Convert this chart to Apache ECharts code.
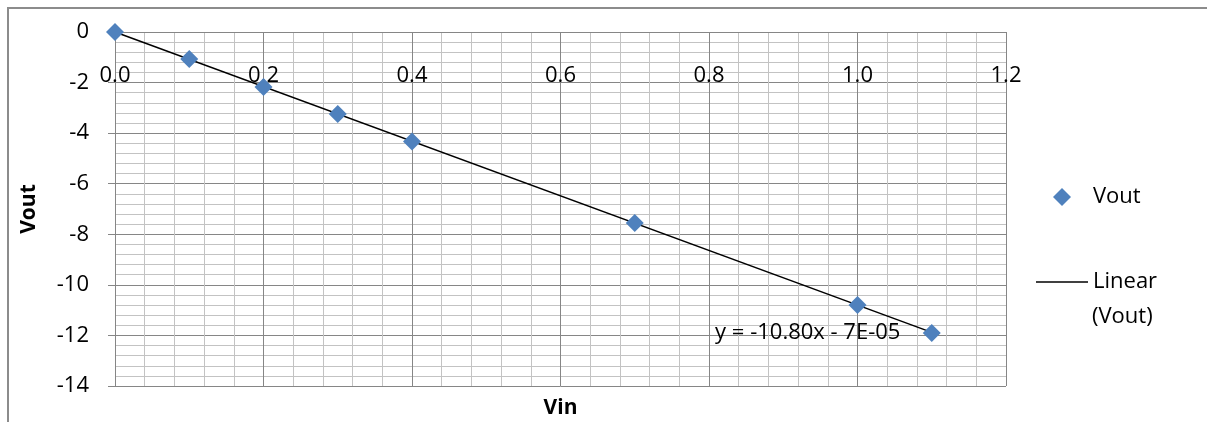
<!DOCTYPE html>
<html>
<head>
<meta charset="utf-8">
<script src="https://cdn.jsdelivr.net/npm/echarts@6/dist/echarts.min.js"></script>
<style>
html,body{margin:0;padding:0;background:#fff;}
#chart{width:1207px;height:422px;}
</style>
</head>
<body>
<div id="chart"></div>
<script>
var vin = [0, 0.1, 0.2, 0.3, 0.4, 0.7, 1.0, 1.1];
var vout = [0, -1.07, -2.18, -3.24, -4.33, -7.55, -10.8, -11.9];
var trendX = [0, 1.1];
var trendY = [-0.00007, -11.88];
var equationText = 'y = -10.80x - 7E-05';
var equationAt = [0.933, -11.9];
var seriesName = 'Vout';
var trendName = 'Linear (Vout)';
var xTitle = 'Vin';
var yTitle = 'Vout';

var FONT = 'Open Sans';
var FS = 22;
var chart = echarts.init(document.getElementById('chart'));
var scatterData = vin.map(function (x, i) { return [x, vout[i]]; });
var trendData = trendX.map(function (x, i) { return [x, trendY[i]]; });

chart.setOption({
  animation: false,
  backgroundColor: '#fff',
  textStyle: { fontFamily: FONT },
  grid: { left: 115, right: 201, top: 32, bottom: 36, containLabel: false, outerBoundsMode: 'none' },
  xAxis: [
    {
      type: 'value', min: 0, max: 1.2, interval: 0.2, position: 'top',
      axisLine: { show: true, onZero: false, lineStyle: { color: '#868686', width: 1 } },
      axisTick: { show: false },
      axisLabel: { inside: true, margin: 33, fontSize: FS, color: '#000', fontFamily: FONT,
        formatter: function (v) { return v.toFixed(1); } },
      splitLine: { show: true, lineStyle: { color: '#868686', width: 1 } },
      minorTick: { show: false, splitNumber: 5 },
      minorSplitLine: { show: true, lineStyle: { color: '#c3c3c3', width: 1 } }
    },
    {
      type: 'value', min: 0, max: 1.2, position: 'bottom',
      name: xTitle, nameLocation: 'middle', nameGap: 12,
      nameTextStyle: { fontFamily: FONT, fontWeight: 'bold', fontSize: 21, color: '#000' },
      axisLine: { show: false }, axisTick: { show: false }, axisLabel: { show: false },
      splitLine: { show: false }
    }
  ],
  yAxis: {
    type: 'value', min: -14, max: 0, interval: 2,
    name: yTitle, nameLocation: 'middle', nameGap: 75, nameRotate: 90,
    nameTextStyle: { fontFamily: FONT, fontWeight: 'bold', fontSize: 21, color: '#000' },
    axisLine: { show: true, onZero: false, lineStyle: { color: '#868686', width: 1 } },
    axisTick: { show: true, inside: false, length: 7, lineStyle: { color: '#868686' } },
    axisLabel: { margin: 26, fontSize: FS, color: '#000', fontFamily: FONT },
    splitLine: { show: true, lineStyle: { color: '#868686', width: 1 } },
    minorTick: { show: false, splitNumber: 5 },
    minorSplitLine: { show: true, lineStyle: { color: '#c3c3c3', width: 1 } }
  },
  legend: [
    {
      data: [{ name: seriesName, icon: 'diamond' }], orient: 'vertical', left: 1048, top: 181,
      itemWidth: 18, itemHeight: 18,
      textStyle: { fontSize: FS, color: '#000', fontFamily: FONT, padding: [0, 0, 0, 17] }
    },
    {
      data: [{ name: trendName, icon: 'rect' }], orient: 'vertical', left: 1031, top: 266,
      itemWidth: 52, itemHeight: 1.6,
      itemStyle: { color: '#000' },
      formatter: function (n) { return n.split(' ')[0]; },
      textStyle: { fontSize: FS, color: '#000', fontFamily: FONT }
    }
  ],
  graphic: [
    { type: 'rect', z: -1, silent: true,
      shape: { x: 8, y: 8, width: 1400, height: 600 },
      style: { fill: 'none', stroke: '#8c8c8c', lineWidth: 2 } },
    { type: 'text', left: 1092, top: 306,
      style: { text: trendName.split(' ')[1], font: FS + 'px "Open Sans"', fill: '#000' } }
  ],
  series: [
    {
      name: trendName, type: 'line', data: trendData, symbol: 'none', showSymbol: false,
      lineStyle: { color: '#000', width: 1.5 }, itemStyle: { color: '#000' }, z: 3,
      markPoint: {
        symbol: 'circle', symbolSize: 0,
        label: { show: true, formatter: equationText, fontSize: FS, color: '#000',
                 fontFamily: FONT, position: 'inside' },
        data: [{ coord: equationAt }]
      }
    },
    {
      name: seriesName, type: 'scatter', data: scatterData, symbol: 'diamond', symbolSize: 18,
      itemStyle: { color: '#4f81bd', opacity: 1 }, z: 4
    }
  ]
});
</script>
</body>
</html>
